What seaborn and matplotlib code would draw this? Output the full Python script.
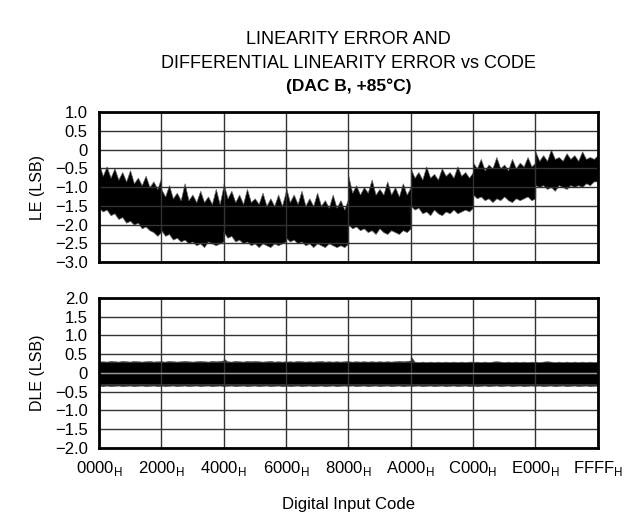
import numpy as np
import pandas as pd
import matplotlib
matplotlib.use("Agg")
import matplotlib.pyplot as plt
import seaborn as sns

# codes de 0000H a FFFFH, 8 segments de 2000H, 17 points lus par segment
segments = [0, 1, 2, 3, 4, 5, 6, 7]
points_par_segment = 17

# enveloppe haute / basse de LE (LSB)
le_haut = [
    -0.35, -0.7, -0.45, -0.75, -0.5, -0.8, -0.6, -0.85, -0.55, -0.9, -0.75, -0.95, -0.7, -1.0, -0.85, -1.05, -0.75,
    -1.05, -1.25, -0.95, -1.3, -1.15, -1.35, -0.9, -1.35, -1.2, -1.4, -1.1, -1.4, -1.25, -1.45, -1.05, -1.45, -0.95,
    -0.9, -1.3, -1.1, -1.4, -1.2, -1.45, -1.05, -1.4, -1.3, -1.45, -1.15, -1.5, -1.3, -1.5, -1.2, -1.5, -1.1,
    -1.0, -1.4, -1.2, -1.45, -1.1, -1.5, -1.3, -1.5, -1.15, -1.5, -1.35, -1.55, -1.2, -1.55, -1.35, -1.6, -1.3,
    -0.7, -1.15, -0.95, -1.2, -1.0, -1.15, -0.8, -1.2, -1.05, -1.2, -0.85, -1.2, -1.0, -1.25, -0.9, -1.2, -1.0,
    -0.5, -0.75, -0.6, -0.8, -0.45, -0.75, -0.65, -0.8, -0.5, -0.7, -0.6, -0.75, -0.45, -0.7, -0.6, -0.75, -0.6,
    -0.35, -0.5, -0.25, -0.55, -0.4, -0.5, -0.2, -0.5, -0.4, -0.55, -0.25, -0.5, -0.35, -0.45, -0.2, -0.45, -0.35,
    -0.05, -0.3, -0.15, -0.3, 0.0, -0.25, -0.2, -0.3, -0.1, -0.25, -0.15, -0.3, -0.05, -0.25, -0.2, -0.25, -0.15,
]
le_bas = [
    -1.55, -1.65, -1.6, -1.75, -1.7, -1.85, -1.8, -1.95, -1.9, -2.0, -1.95, -2.1, -2.05, -2.15, -2.2, -2.3, -2.2,
    -2.15, -2.3, -2.25, -2.4, -2.35, -2.45, -2.4, -2.5, -2.45, -2.55, -2.5, -2.6, -2.45, -2.5, -2.55, -2.5, -2.45,
    -2.2, -2.35, -2.3, -2.45, -2.4, -2.5, -2.45, -2.55, -2.5, -2.6, -2.5, -2.55, -2.6, -2.5, -2.55, -2.5, -2.45,
    -2.35, -2.45, -2.4, -2.5, -2.45, -2.55, -2.5, -2.6, -2.5, -2.55, -2.6, -2.5, -2.55, -2.6, -2.55, -2.6, -2.5,
    -2.0, -2.1, -2.05, -2.15, -2.1, -2.2, -2.15, -2.25, -2.1, -2.2, -2.25, -2.15, -2.2, -2.25, -2.15, -2.2, -2.1,
    -1.5, -1.6, -1.55, -1.7, -1.65, -1.75, -1.6, -1.7, -1.75, -1.65, -1.7, -1.6, -1.7, -1.65, -1.6, -1.65, -1.55,
    -1.2, -1.3, -1.25, -1.35, -1.3, -1.4, -1.3, -1.35, -1.25, -1.35, -1.4, -1.3, -1.35, -1.3, -1.25, -1.35, -1.3,
    -0.95, -1.0, -0.95, -1.05, -1.0, -1.1, -0.95, -1.0, -1.05, -0.95, -1.0, -0.95, -1.0, -0.9, -0.95, -0.85, -0.85,
]

# DLE (LSB) : bande noire pleine + frange
dle_coeur_haut = 0.26
dle_coeur_bas = -0.31
dle_haut = [
    0.30, 0.31, 0.30, 0.32, 0.31, 0.30, 0.32, 0.31, 0.30, 0.32, 0.31, 0.30, 0.31, 0.32, 0.30, 0.31, 0.31,
    0.31, 0.30, 0.32, 0.31, 0.30, 0.31, 0.32, 0.31, 0.30, 0.31, 0.32, 0.31, 0.30, 0.32, 0.31, 0.32, 0.33,
    0.38, 0.31, 0.30, 0.32, 0.31, 0.30, 0.32, 0.31, 0.32, 0.31, 0.30, 0.31, 0.32, 0.30, 0.31, 0.30, 0.31,
    0.30, 0.31, 0.30, 0.32, 0.31, 0.30, 0.31, 0.30, 0.31, 0.32, 0.30, 0.31, 0.30, 0.31, 0.30, 0.31, 0.32,
    0.31, 0.30, 0.31, 0.30, 0.31, 0.30, 0.31, 0.30, 0.31, 0.30, 0.31, 0.30, 0.31, 0.32, 0.31, 0.32, 0.33,
    0.45, 0.30, 0.29, 0.30, 0.29, 0.30, 0.29, 0.30, 0.29, 0.30, 0.29, 0.30, 0.29, 0.30, 0.29, 0.30, 0.30,
    0.29, 0.30, 0.29, 0.30, 0.29, 0.30, 0.31, 0.30, 0.29, 0.30, 0.29, 0.30, 0.29, 0.30, 0.29, 0.30, 0.29,
    0.30, 0.29, 0.30, 0.31, 0.30, 0.29, 0.30, 0.29, 0.30, 0.29, 0.30, 0.29, 0.30, 0.29, 0.30, 0.29, 0.30,
]
dle_bas = [
    -0.35, -0.36, -0.34, -0.36, -0.35, -0.34, -0.36, -0.35, -0.34, -0.36, -0.35, -0.34, -0.36, -0.35, -0.34, -0.36, -0.35,
    -0.34, -0.36, -0.35, -0.34, -0.36, -0.35, -0.34, -0.36, -0.35, -0.34, -0.36, -0.35, -0.34, -0.36, -0.35, -0.34, -0.36,
    -0.36, -0.35, -0.34, -0.36, -0.35, -0.34, -0.36, -0.35, -0.34, -0.36, -0.35, -0.34, -0.36, -0.35, -0.34, -0.36, -0.35,
    -0.34, -0.36, -0.35, -0.34, -0.36, -0.35, -0.34, -0.36, -0.35, -0.34, -0.36, -0.35, -0.34, -0.36, -0.35, -0.34, -0.36,
    -0.35, -0.34, -0.36, -0.35, -0.34, -0.36, -0.35, -0.34, -0.36, -0.35, -0.34, -0.36, -0.35, -0.34, -0.36, -0.35, -0.34,
    -0.36, -0.35, -0.34, -0.36, -0.35, -0.34, -0.36, -0.35, -0.34, -0.36, -0.35, -0.34, -0.36, -0.35, -0.34, -0.36, -0.35,
    -0.34, -0.36, -0.35, -0.34, -0.36, -0.35, -0.34, -0.36, -0.35, -0.34, -0.36, -0.35, -0.34, -0.36, -0.35, -0.34, -0.36,
    -0.35, -0.34, -0.36, -0.35, -0.34, -0.36, -0.35, -0.34, -0.36, -0.35, -0.34, -0.36, -0.35, -0.34, -0.36, -0.35, -0.35,
]

x_ticks = [0x0000, 0x2000, 0x4000, 0x6000, 0x8000, 0xA000, 0xC000, 0xE000, 0xFFFF]
x_labels = ["0000", "2000", "4000", "6000", "8000", "A000", "C000", "E000", "FFFF"]
le_ticks = [1.0, 0.5, 0, -0.5, -1.0, -1.5, -2.0, -2.5, -3.0]
dle_ticks = [2.0, 1.5, 1.0, 0.5, 0, -0.5, -1.0, -1.5, -2.0]

# position des codes pour chaque point lu
codes = np.concatenate([s * 0x2000 + np.linspace(0, 0x1FFF, points_par_segment) for s in segments])
df = pd.DataFrame({"code": codes, "le_haut": le_haut, "le_bas": le_bas,
                   "dle_haut": dle_haut, "dle_bas": dle_bas})

sns.set_theme(style="white")
plt.rcParams["font.family"] = ["Liberation Sans", "DejaVu Sans"]
plt.rcParams["mathtext.fontset"] = "custom"
plt.rcParams["mathtext.rm"] = "Liberation Sans"
plt.rcParams["text.color"] = "black"
plt.rcParams["axes.labelcolor"] = "black"

fig = plt.figure(figsize=(6.42, 5.16), dpi=100)
ax1 = fig.add_axes([0.154, 0.492, 0.777, 0.291])
ax2 = fig.add_axes([0.154, 0.132, 0.777, 0.291])


def fmt_lsb(v):
    if v == 0:
        return "0"
    return f"{v:.1f}".replace("-", "\u2212")


for ax in (ax1, ax2):
    ax.set_xlim(0, 0xFFFF)
    ax.set_xticks(x_ticks)
    ax.grid(True, color="0.2", linewidth=1.0, zorder=3)
    ax.set_axisbelow(False)
    ax.tick_params(length=0, pad=8, labelsize=12, colors="black")
    for sp in ax.spines.values():
        sp.set_linewidth(2.0)
        sp.set_color("black")
        sp.set_zorder(5)

# LE
ax1.fill_between(df["code"], df["le_bas"], df["le_haut"], color="black", linewidth=0.5,
                 edgecolor="0.4", zorder=2)
ax1.set_ylim(-3.0, 1.0)
ax1.set_yticks(le_ticks)
ax1.set_yticklabels([fmt_lsb(v) for v in le_ticks])
ax1.set_xticklabels([])
ax1.set_ylabel("LE (LSB)", fontsize=11.5, labelpad=7)

# DLE
ax2.fill_between(df["code"], df["dle_bas"], df["dle_haut"], color="0.2", linewidth=0.3,
                 edgecolor="0.3", zorder=2)
ax2.fill_between(df["code"], dle_coeur_bas, dle_coeur_haut, color="black", linewidth=0, zorder=2)
ax2.axhline(0, color="0.6", linewidth=1.0, zorder=4)
ax2.set_ylim(-2.0, 2.0)
ax2.set_yticks(dle_ticks)
ax2.set_yticklabels([fmt_lsb(v) for v in dle_ticks])
ax2.set_xticklabels([f"{l}$_{{\\mathregular{{H}}}}$" for l in x_labels])
ax2.set_ylabel("DLE (LSB)", fontsize=11.5, labelpad=7)
ax2.set_xlabel("Digital Input Code", fontsize=12, labelpad=14)

cx = 0.154 + 0.777 / 2
fig.text(cx, 1 - 40 / 516, "LINEARITY ERROR AND", ha="center", va="center", fontsize=13)
fig.text(cx, 1 - 63 / 516, "DIFFERENTIAL LINEARITY ERROR vs CODE", ha="center", va="center", fontsize=13)
fig.text(cx, 1 - 86 / 516, "(DAC B, +85\u00b0C)", ha="center", va="center", fontsize=12.5, fontweight="bold")

fig.savefig("out.png", dpi=100)
